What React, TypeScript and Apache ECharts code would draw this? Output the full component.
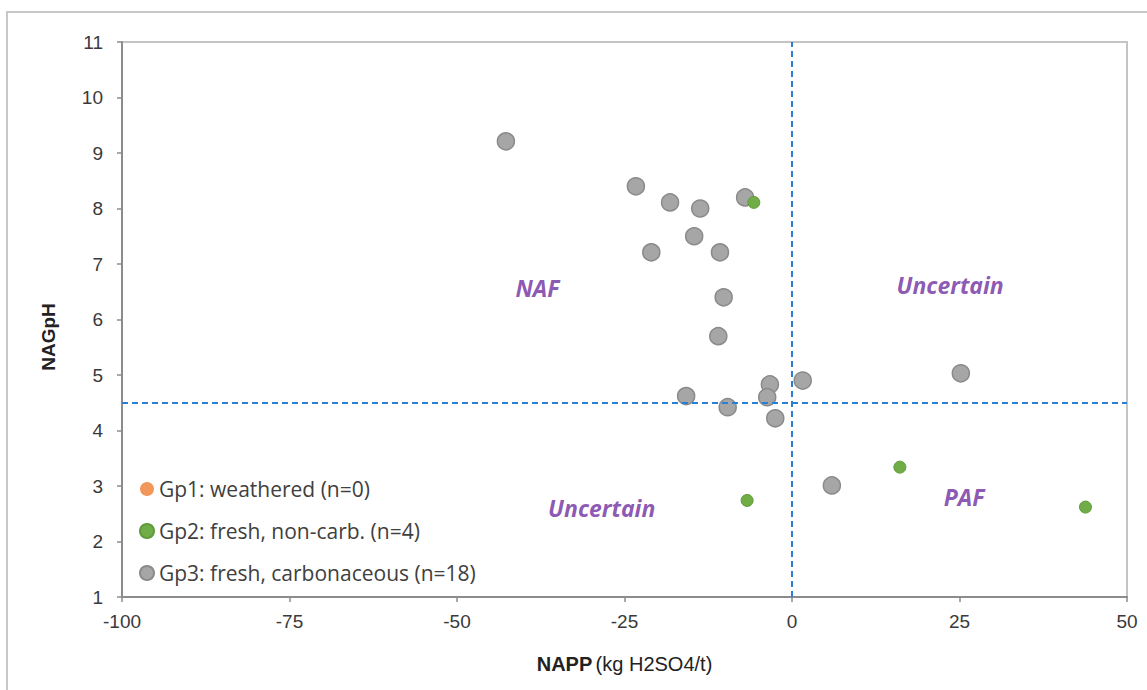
import React, { useEffect, useRef } from "react";
import * as echarts from "echarts";

// NAPP (x) and NAGpH (y) values
const gp1Points: [number, number][] = [];
const gp2Points: [number, number][] = [
  [-5.7, 8.11],
  [-6.7, 2.74],
  [16.1, 3.34],
  [43.8, 2.62],
];
const gp3Points: [number, number][] = [
  [-42.7, 9.21],
  [-23.3, 8.4],
  [-18.2, 8.11],
  [-13.7, 8.0],
  [-7.0, 8.2],
  [-14.6, 7.5],
  [-21.0, 7.21],
  [-10.75, 7.21],
  [-10.2, 6.4],
  [-11.0, 5.7],
  [-15.8, 4.62],
  [-9.6, 4.42],
  [-3.3, 4.83],
  [-3.7, 4.6],
  [-2.5, 4.22],
  [1.6, 4.9],
  [25.2, 5.03],
  [5.95, 3.01],
];
const seriesNames = [
  "Gp1: weathered (n=0)",
  "Gp2: fresh, non-carb. (n=4)",
  "Gp3: fresh, carbonaceous (n=18)",
];
const zoneLabels: { name: string; value: [number, number] }[] = [
  { name: "NAF", value: [-38.0, 6.56] },
  { name: "Uncertain", value: [23.6, 6.63] },
  { name: "Uncertain", value: [-28.4, 2.6] },
  { name: "PAF", value: [25.7, 2.8] },
];
const nappThreshold = 0;
const nagphThreshold = 4.5;
const xMin = -100, xMax = 50, xStep = 25;
const yMin = 1, yMax = 11, yStep = 1;

export default function App() {
  const ref = useRef<HTMLDivElement>(null);
  useEffect(() => {
    if (!ref.current) return;
    const chart = echarts.init(ref.current, null, { renderer: "svg" });
    const tickFont = { fontFamily: "Liberation Sans", fontSize: 19, color: "#3a3a3a" };
    chart.setOption({
      animation: false,
      backgroundColor: "#fff",
      grid: {
        left: 122,
        top: 42,
        right: 20,
        bottom: 93,
        show: true,
        borderColor: "#c4c4c4",
        borderWidth: 2,
        backgroundColor: "transparent",
      },
      xAxis: {
        type: "value",
        min: xMin,
        max: xMax,
        interval: xStep,
        axisLine: { show: true, onZero: false, lineStyle: { color: "#8c8c8c", width: 2 } },
        axisTick: { show: true, length: 5, lineStyle: { color: "#8c8c8c", width: 1.5 } },
        splitLine: { show: false },
        axisLabel: { ...tickFont, margin: 15 },
        name: "{b|NAPP} {n|(kg H2SO4/t)}",
        nameLocation: "middle",
        nameGap: 57,
        nameTextStyle: {
          rich: {
            b: { fontFamily: "Liberation Sans", fontWeight: "bold", fontSize: 20, color: "#222" },
            n: { fontFamily: "Liberation Sans", fontSize: 20, color: "#222" },
          },
        },
      },
      yAxis: {
        type: "value",
        min: yMin,
        max: yMax,
        interval: yStep,
        axisLine: { show: true, onZero: false, lineStyle: { color: "#8c8c8c", width: 2 } },
        axisTick: { show: true, length: 5, lineStyle: { color: "#8c8c8c", width: 1.5 } },
        splitLine: { show: false },
        axisLabel: { ...tickFont, margin: 19 },
      },
      legend: {
        orient: "vertical",
        left: 134,
        top: 473,
        itemGap: 20,
        itemWidth: 14,
        itemHeight: 14,
        icon: "circle",
        data: seriesNames,
        textStyle: { fontFamily: "Open Sans", fontSize: 21, color: "#404040", lineHeight: 22 },
      },
      graphic: [
        {
          type: "rect",
          shape: { x: 7, y: 12, width: 1200, height: 720 },
          style: { fill: "none", stroke: "#c8c8c8", lineWidth: 2 },
          silent: true,
        },
        {
          type: "text",
          x: 48,
          y: 337,
          rotation: Math.PI / 2,
          style: {
            text: "NAGpH",
            align: "center",
            verticalAlign: "middle",
            font: "bold 19px 'Liberation Sans'",
            fill: "#222",
          },
        },
      ],
      series: [
        {
          name: seriesNames[0],
          type: "scatter",
          data: gp1Points,
          symbolSize: 12,
          itemStyle: { color: "#ED7D31" },
        },
        {
          name: seriesNames[2],
          type: "scatter",
          data: gp3Points,
          symbolSize: 17,
          itemStyle: { color: "#A6A6A6", borderColor: "#8a8a8a", borderWidth: 1.5, opacity: 1 },
          markLine: {
            silent: true,
            symbol: "none",
            label: { show: false },
            lineStyle: { type: [6, 4], color: "#2a7fd4", width: 2 },
            data: [{ xAxis: nappThreshold }, { yAxis: nagphThreshold }],
          },
        },
        {
          name: seriesNames[1],
          type: "scatter",
          data: gp2Points,
          symbolSize: 12,
          itemStyle: { color: "#70AD47", borderColor: "#5f9a3a", borderWidth: 1, opacity: 1 },
        },
        {
          name: "zones",
          type: "scatter",
          silent: true,
          symbolSize: 0,
          data: zoneLabels,
          label: {
            show: true,
            position: "inside",
            formatter: (p: any) => p.name,
            fontFamily: "Open Sans",
            fontStyle: "italic",
            fontWeight: "bold",
            fontSize: 23,
            color: "#6E2CA0",
          },
        },
      ],
    });
    return () => chart.dispose();
  }, []);
  return (
    <div
      ref={ref}
      style={{ position: "absolute", left: 0, top: 0, width: 1147, height: 690 }}
    />
  );
}
